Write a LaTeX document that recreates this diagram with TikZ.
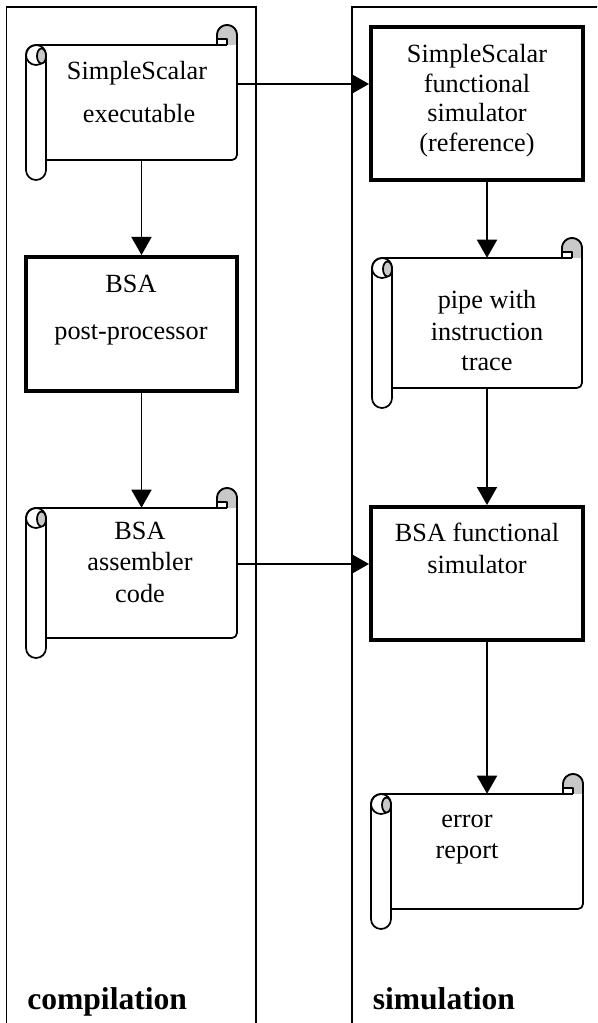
\documentclass[tikz,border=0pt]{standalone}
\usepackage{fontspec}
\setmainfont{Liberation Serif}
\usetikzlibrary{arrows.meta,fit,calc}
\definecolor{curlgray}{RGB}{200,200,200}
\def\rolr{10}
\def\cornr{5}
\newcommand\scrollshp[5]{%
  \node[fit={(#2,#3) (#4,#5)}, inner sep=0pt] (#1) {};
  \draw[scrl, fill=white]
    ({#2-2*\rolr},{#3+\rolr}) arc[start angle=180,end angle=270,radius=\rolr]
    -- ({#4-2*\rolr},#3) -- ({#4-2*\rolr},{#3-\rolr})
    arc[start angle=180,end angle=360,radius=\rolr]
    -- (#4,{#5-\cornr}) arc[start angle=0,end angle=90,radius=\cornr]
    -- (#2,#5) -- (#2,{#5+\rolr})
    arc[start angle=0,end angle=180,radius=\rolr] -- cycle;
  \draw[scrl] (#2,{#3+\rolr}) -- (#2,#5);
  \draw[scrl] ({#2-\rolr},{#3+\rolr}) circle[radius=\rolr];
  \draw[scrl, fill=curlgray] ({#2-0.45*\rolr},{#3+\rolr+1}) ellipse[x radius={0.45*\rolr}, y radius={0.75*\rolr}];
  \fill[curlgray] ({#4-2*\rolr},#3) -- ({#4-2*\rolr},{#3-\rolr}) arc[start angle=180,end angle=360,radius=\rolr] -- (#4,#3) -- cycle;
  \draw[scrl, fill=white] ({#4-2*\rolr},#3) -- ({#4-2*\rolr},{#3-0.6*\rolr}) -- ({#4-\rolr},{#3-0.6*\rolr}) -- ({#4-\rolr},#3);
  \draw[scrl] ({#4-2*\rolr},#3) -- ({#4-2*\rolr},{#3-\rolr}) arc[start angle=180,end angle=360,radius=\rolr] -- (#4,#3);
  \draw[scrl] ({#4-2*\rolr},#3) -- ({#4-\rolr},#3);
}
\begin{document}
\begin{tikzpicture}[x=0.75pt,y=-0.75pt,
  lane/.style={line width=1.3pt},
  scrl/.style={line width=1.3pt, line join=round},
  procbox/.style={draw, line width=3pt, fill=white, inner sep=0pt},
  arr/.style={line width=1.3pt, -{Triangle[width=15pt,length=13.5pt]}},
  txt/.style={font=\fontsize{19.7}{23}\selectfont, inner sep=0pt, anchor=base},
  lbl/.style={font=\fontsize{23.7}{28}\selectfont\bfseries, inner sep=0pt, anchor=base west}]
\useasboundingbox (0,0) rectangle (597,1023);
\clip (0,0) rectangle (597,1023);

% swimlanes
\draw[lane] (6.5,1040) -- (6.5,7) -- (256,7) -- (256,1040);
\draw[lane] (352,1040) -- (352,7) -- (620,7);

% compilation lane
\scrollshp{s1}{46}{45}{237}{160}
\node[procbox, fit={(26,257) (237,391)}] (pp) {};
\scrollshp{asm}{46}{508}{237}{638}

% simulation lane
\node[procbox, fit={(371,27) (583,180)}] (ss) {};
\scrollshp{pipe}{392}{258}{582}{388}
\node[procbox, fit={(371,507) (583,640)}] (bsaf) {};
\scrollshp{err}{391}{794}{583}{909}

% texts
\node[txt] (s1a) at (137,80) {SimpleScalar};
\node[txt] (s1b) at (139,123) {executable};
\node[txt] (ppa) at (131,292) {BSA};
\node[txt] (ppb) at (131,339) {post-processor};
\node[txt] (asma) at (140,539) {BSA};
\node[txt] (asmb) at (140,570) {assembler};
\node[txt] (asmc) at (140,602) {code};
\node[txt] (ssa) at (477,63) {SimpleScalar};
\node[txt] (ssb) at (477,93) {functional};
\node[txt] (ssc) at (477,122) {simulator};
\node[txt] (ssd) at (477,152) {(reference)};
\node[txt] (pipea) at (487,308) {pipe with};
\node[txt] (pipeb) at (487,340) {instruction};
\node[txt] (pipec) at (487,370) {trace};
\node[txt] (bsafa) at (477,541) {BSA functional};
\node[txt] (bsafb) at (477,573) {simulator};
\node[txt] (erra) at (467,827) {error};
\node[txt] (errb) at (467,858) {report};
\node[lbl] (lc) at (27,1009) {compilation};
\node[lbl] (ls) at (372.5,1009) {simulation};

% connectors
\coordinate (hA) at (0,84);
\coordinate (hB) at (0,564);
\draw[arr] (s1.south) -- (s1.south |- pp.north);
\draw[arr] (s1.south |- pp.south) -- (s1.south |- asm.north);
\draw[arr] (s1.east |- hA) -- (ss.west |- hA);
\draw[arr] (pipe.north |- ss.south) -- (pipe.north);
\draw[arr] (pipe.south) -- (pipe.south |- bsaf.north);
\draw[arr] (asm.east |- hB) -- (bsaf.west |- hB);
\draw[arr] (err.north |- bsaf.south) -- (err.north);
\end{tikzpicture}
\end{document}
